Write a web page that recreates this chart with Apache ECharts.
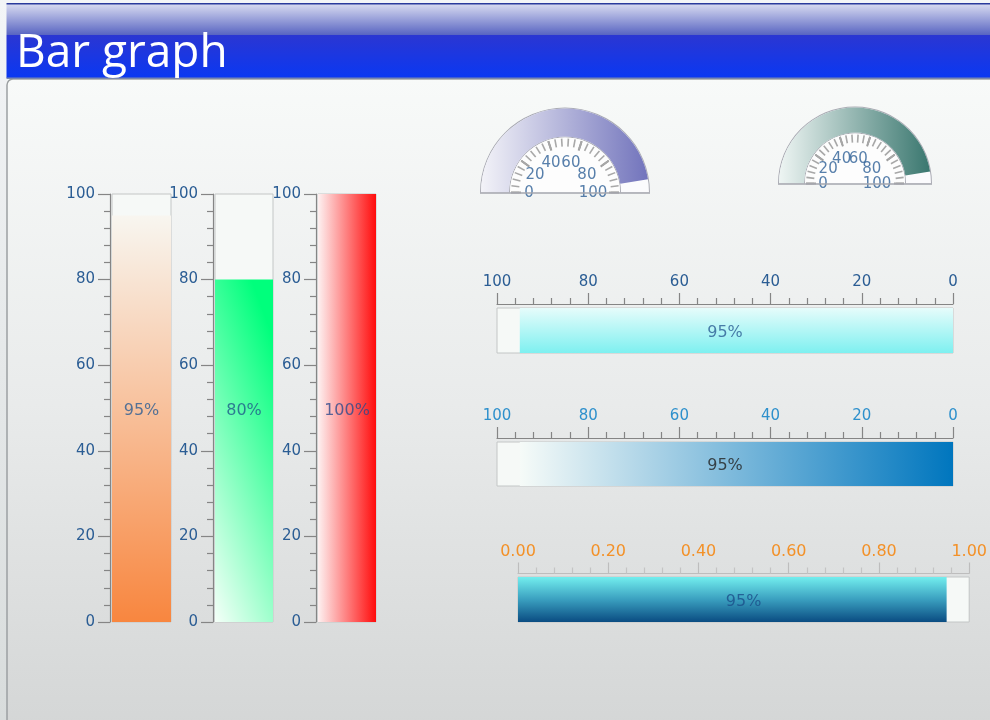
<!DOCTYPE html>
<html>
<head>
<meta charset="utf-8">
<script src="https://cdn.jsdelivr.net/npm/echarts@6/dist/echarts.min.js"></script>
<style>
  html, body { margin: 0; padding: 0; background: #eef1f3; }
  #main { width: 990px; height: 720px; }
</style>
</head>
<body>
<div id="main"></div>
<script>
// ---- data ----
const vBarNames = ['Level A', 'Level B', 'Level C'];
const vBarValues = [95, 80, 100];
const hBarNames = ['Level D', 'Level E'];
const hBarValues = [95, 95];
const fracBarNames = ['Level F'];
const fracBarValues = [0.95];
const gaugeNames = ['Gauge 1', 'Gauge 2'];
const gaugeValues = [95, 95];
const pctTicks = [0, 20, 40, 60, 80, 100];
const fracTicks = [0, 0.2, 0.4, 0.6, 0.8, 1.0];

// ---- derived scale settings ----
const pctMin = pctTicks[0], pctMax = pctTicks[pctTicks.length - 1], pctStep = pctTicks[1] - pctTicks[0];
const fracMin = fracTicks[0], fracMax = fracTicks[fracTicks.length - 1], fracStep = fracTicks[1] - fracTicks[0];
const pctMid = (pctMin + pctMax) / 2;
const fracMid = (fracMin + fracMax) / 2;

const FONT = 'DejaVu Sans';
const LG = echarts.graphic.LinearGradient;

// ---- layout ----
const vGrids = [
  { left: 112, width: 59 },
  { left: 215, width: 58 },
  { left: 318, width: 58 }
];
const vTop = 194, vHeight = 428;
const vFills = [
  new LG(0, 0, 0, 1, [{ offset: 0, color: '#f8f6f0' }, { offset: 1, color: '#f8863f' }]),
  // diagonal sweep: pale at lower left, vivid at upper right
  new LG(0, 1, 2.5, 0.84, [{ offset: 0, color: '#f4fff8' }, { offset: 1, color: '#00ff7c' }]),
  new LG(0, 0, 1, 0, [{ offset: 0, color: '#fdf1f1' }, { offset: 1, color: '#ff0c0c' }])
];
const vLabelColors = ['#2b5d94', '#1f5a8a', '#2c4a8c'];

const hGrids = [
  { left: 497, width: 456, top: 308, height: 45 },
  { left: 497, width: 456, top: 442, height: 44 }
];
const hFills = [
  new LG(0, 0, 0, 1, [{ offset: 0, color: '#e6fcfb' }, { offset: 1, color: '#7ef0f0' }]),
  new LG(0, 0, 1, 0, [{ offset: 0, color: '#f6fbf8' }, { offset: 1, color: '#0076be' }])
];
const hTickLabelColors = ['#2b5d94', '#2e90cc'];
const hLabelColors = ['#2b5d94', '#222222'];

const fGrid = { left: 518, width: 455, top: 577, height: 45 };
const fFill = new LG(0, 0, 0, 1, [{ offset: 0, color: '#72eeee' }, { offset: 0.5, color: '#3a9fbf' }, { offset: 1, color: '#0a4c82' }]);

const gaugeLayouts = [
  { center: [565, 192.5], outer: 84, band: 28, labelR: 32, labelShift: [-4, 1],
    fill: new LG(0, 0, 1, 0, [{ offset: 0, color: '#f3f3f8' }, { offset: 1, color: '#7274bc' }]) },
  { center: [855, 183.5], outer: 76, band: 25, labelR: 27, labelShift: [-5, 1],
    fill: new LG(0, 0, 1, 0, [{ offset: 0, color: '#eef5f3' }, { offset: 1, color: '#3a776f' }]) }
];

const trackBg = { color: '#f6f9f7', borderColor: '#c3c6c6', borderWidth: 1 };
const axisGrey = '#858585';

// ---- components ----
const grid = [];
const xAxis = [];
const yAxis = [];
const series = [];
const polar = [];
const angleAxis = [];
const radiusAxis = [];

// vertical bars
vBarValues.forEach((v, i) => {
  grid.push({ left: vGrids[i].left, width: vGrids[i].width, top: vTop, height: vHeight });
  xAxis.push({ gridIndex: i, type: 'category', data: [vBarNames[i]], show: false });
  yAxis.push({
    gridIndex: i, type: 'value', min: pctMin, max: pctMax, interval: pctStep, offset: 2,
    axisLine: { show: true, lineStyle: { color: axisGrey, width: 1.2 } },
    axisTick: { show: true, length: 12, lineStyle: { color: axisGrey, width: 1.2 } },
    minorTick: { show: true, splitNumber: 5, length: 6, lineStyle: { color: axisGrey, width: 1.2 } },
    splitLine: { show: false },
    axisLabel: { color: '#2b5d94', fontSize: 15, fontFamily: FONT, margin: 15 }
  });
  series.push({
    type: 'bar', xAxisIndex: i, yAxisIndex: i, barWidth: '100%',
    data: [v], itemStyle: { color: vFills[i] },
    showBackground: true, backgroundStyle: trackBg
  });
  series.push({
    type: 'scatter', xAxisIndex: i, yAxisIndex: i, symbolSize: 0, z: 5,
    data: [[0, pctMid]],
    label: { show: true, position: 'inside', offset: [0, 3], formatter: () => vBarValues[i] + '%',
      color: vLabelColors[i], fontSize: 16, fontFamily: FONT }
  });
});

// horizontal percent bars (reversed scale)
hBarValues.forEach((v, j) => {
  const gi = grid.length;
  grid.push(hGrids[j]);
  xAxis.push({
    gridIndex: gi, type: 'value', min: pctMin, max: pctMax, interval: pctStep,
    inverse: true, position: 'top', offset: 4,
    axisLine: { show: true, lineStyle: { color: axisGrey, width: 1.2 } },
    axisTick: { show: true, length: 11, lineStyle: { color: axisGrey, width: 1.2 } },
    minorTick: { show: true, splitNumber: 5, length: 6, lineStyle: { color: axisGrey, width: 1.2 } },
    splitLine: { show: false },
    axisLabel: { color: hTickLabelColors[j], fontSize: 15, fontFamily: FONT, margin: 14 }
  });
  yAxis.push({ gridIndex: gi, type: 'category', data: [hBarNames[j]], show: false });
  series.push({
    type: 'bar', xAxisIndex: gi, yAxisIndex: gi, barWidth: '100%',
    data: [v], itemStyle: { color: hFills[j] },
    showBackground: true, backgroundStyle: trackBg
  });
  series.push({
    type: 'scatter', xAxisIndex: gi, yAxisIndex: gi, symbolSize: 0, z: 5,
    data: [[pctMid, 0]],
    label: { show: true, position: 'inside', offset: [0, 2], formatter: () => hBarValues[j] + '%',
      color: hLabelColors[j], fontSize: 16, fontFamily: FONT }
  });
});

// fraction bar
(() => {
  const gi = grid.length;
  grid.push(fGrid);
  xAxis.push({
    gridIndex: gi, type: 'value', min: fracMin, max: fracMax, interval: fracStep,
    position: 'top', offset: 3.5,
    axisLine: { show: true, lineStyle: { color: '#bdbdbd', width: 1.2 } },
    axisTick: { show: true, length: 11, lineStyle: { color: '#bdbdbd', width: 1.2 } },
    minorTick: { show: true, splitNumber: 5, length: 6, lineStyle: { color: '#c4c4c4', width: 1.2 } },
    splitLine: { show: false },
    axisLabel: { color: '#f39128', fontSize: 16, fontFamily: FONT, margin: 14,
      formatter: (val) => val.toFixed(2) }
  });
  yAxis.push({ gridIndex: gi, type: 'category', data: fracBarNames, show: false });
  series.push({
    type: 'bar', xAxisIndex: gi, yAxisIndex: gi, barWidth: '100%',
    data: fracBarValues, itemStyle: { color: fFill },
    showBackground: true, backgroundStyle: trackBg
  });
  series.push({
    type: 'scatter', xAxisIndex: gi, yAxisIndex: gi, symbolSize: 0, z: 5,
    data: [[fracMid, 0]],
    label: { show: true, position: 'inside', offset: [0, 2], formatter: () => Math.round(fracBarValues[0] * 100) + '%',
      color: '#1b4f8a', fontSize: 16, fontFamily: FONT }
  });
})();

// semicircular gauges
const baselines = [];
gaugeValues.forEach((v, k) => {
  const g = gaugeLayouts[k];
  const inner = g.outer - g.band - 1;
  const base = {
    type: 'gauge', center: g.center, startAngle: 180, endAngle: 0, min: pctMin, max: pctMax,
    pointer: { show: false }, anchor: { show: false }, title: { show: false }, detail: { show: false },
    axisTick: { show: false }, splitLine: { show: false }, axisLabel: { show: false },
    silent: true, data: [{ value: v, name: gaugeNames[k] }]
  };
  series.push({ ...base, radius: g.outer + 1,
    axisLine: { lineStyle: { width: g.band + 2, color: [[1, '#a9aab3']] } } });
  series.push({ ...base, radius: g.outer,
    axisLine: { lineStyle: { width: g.band, color: [[1, '#fbfbfd']] } },
    progress: { show: true, width: g.band, itemStyle: { color: g.fill } } });
  series.push({ ...base, radius: inner,
    axisLine: { lineStyle: { width: inner, color: [[1, '#fdfdfd']] } } });
  series.push({ ...base, radius: inner - 1, splitNumber: 5,
    axisLine: { show: false, lineStyle: { width: 0 } },
    splitLine: { show: true, distance: 0, length: 10, lineStyle: { color: '#a0a0a0', width: 2 } },
    axisTick: { show: true, distance: 0, splitNumber: 5, length: 8, lineStyle: { color: '#a8a8a8', width: 1.6 } } });

  // tick labels placed on a polar frame sharing the gauge centre
  polar.push({ center: g.center, radius: inner });
  angleAxis.push({ polarIndex: k, type: 'value', min: pctMin, max: pctMax * 2, startAngle: 180, clockwise: true, show: false });
  radiusAxis.push({ polarIndex: k, type: 'value', min: 0, max: inner, show: false });
  series.push({
    type: 'scatter', coordinateSystem: 'polar', polarIndex: k, symbolSize: 0, z: 6,
    data: pctTicks.map(t => [g.labelR, t]),
    label: { show: true, position: 'inside', offset: g.labelShift,
      formatter: (p) => String(p.value[1]), color: '#2d5f96', fontSize: 15, fontFamily: FONT }
  });

  baselines.push({
    type: 'line', z: 20, silent: true,
    shape: { x1: g.center[0] - g.outer - 1, y1: g.center[1] + 0.5, x2: g.center[0] + g.outer + 1, y2: g.center[1] + 0.5 },
    style: { stroke: '#a5a6ae', lineWidth: 1.3 }
  });
});

// page frame and header band
const frame = [
  { type: 'rect', z: -10, shape: { x: 0, y: 0, width: 990, height: 720 },
    style: { fill: new LG(0, 0, 0, 1, [{ offset: 0, color: '#f3f5f7' }, { offset: 1, color: '#d8dcdc' }]) } },
  { type: 'rect', z: -9, shape: { x: 7, y: 79, width: 990, height: 650, r: [6, 0, 0, 0] },
    style: { fill: new LG(0, 0, 0, 1, [{ offset: 0, color: '#f8faf9' }, { offset: 0.5, color: '#e9ebeb' }, { offset: 1, color: '#d4d6d6' }]),
      stroke: '#9ca0a2', lineWidth: 1.5 } },
  { type: 'rect', z: -8, shape: { x: 6.5, y: 4, width: 990, height: 31 },
    style: { fill: new LG(0, 0, 0, 1, [{ offset: 0, color: '#d8dbf0' }, { offset: 1, color: '#5864c2' }]) } },
  { type: 'rect', z: -8, shape: { x: 6.5, y: 35, width: 990, height: 43 },
    style: { fill: new LG(0, 0, 0, 1, [{ offset: 0, color: '#2b36d2' }, { offset: 1, color: '#0a38f2' }]) } },
  { type: 'rect', z: -7, shape: { x: 6.5, y: 3, width: 990, height: 1.5 }, style: { fill: '#2a3a9c' } },
  { type: 'rect', z: -7, shape: { x: 6.5, y: 77.5, width: 990, height: 1.5 }, style: { fill: '#7886ae' } }
];

const chart = echarts.init(document.getElementById('main'), null, { renderer: 'canvas' });
chart.setOption({
  animation: false,
  backgroundColor: 'transparent',
  title: {
    text: 'Bar graph', left: 11, top: 26,
    textStyle: { color: '#ffffff', fontSize: 46, fontWeight: 'normal', fontFamily: 'Open Sans' }
  },
  graphic: { elements: frame.concat(baselines) },
  grid, xAxis, yAxis, polar, angleAxis, radiusAxis, series
});
</script>
</body>
</html>
